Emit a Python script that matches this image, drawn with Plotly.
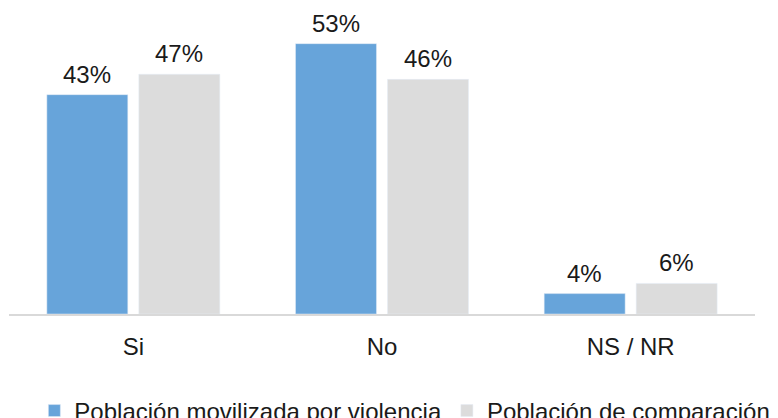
import plotly.graph_objects as go

categories = ["Si", "No", "NS / NR"]
movilizada = [43, 53, 4]
comparacion = [47, 46, 6]
series_names = ["Población movilizada por violencia", "Población de comparación"]

FONT = "Liberation Sans, Arial, sans-serif"
series = [(movilizada, series_names[0], "#67a4da", -46),
          (comparacion, series_names[1], "#dcdcdc", 46)]

fig = go.Figure()
for vals, name, color, shift in series:
    fig.add_trace(go.Bar(
        x=categories, y=vals, name=name,
        marker=dict(color=color), hoverinfo="skip",
    ))
    for c, v in zip(categories, vals):
        fig.add_annotation(x=c, y=v, text=f"{v}%", showarrow=False,
                           xshift=shift, yshift=5, yanchor="bottom",
                           font=dict(size=24, color="#1a1a1a"))

fig.update_layout(
    width=778, height=418,
    margin=dict(l=9, r=23, t=10, b=104, autoexpand=False),
    paper_bgcolor="white", plot_bgcolor="white",
    font=dict(family=FONT, size=24, color="#1a1a1a"),
    barmode="group", bargap=0.26, bargroupgap=0.12,
    showlegend=True,
    legend=dict(orientation="h", x=0.034, xanchor="left", y=-0.245, yanchor="top",
                font=dict(size=24), itemwidth=30, tracegroupgap=0),
)
fig.update_yaxes(range=[0, 59.6], visible=False)
fig.update_xaxes(showline=True, linecolor="#d9d9d9", linewidth=2, ticks="",
                 tickfont=dict(size=24), showgrid=False, ticklabelstandoff=10)

fig.write_html("out.html", config={"displayModeBar": False},
               post_script="document.body.style.margin='0';")
